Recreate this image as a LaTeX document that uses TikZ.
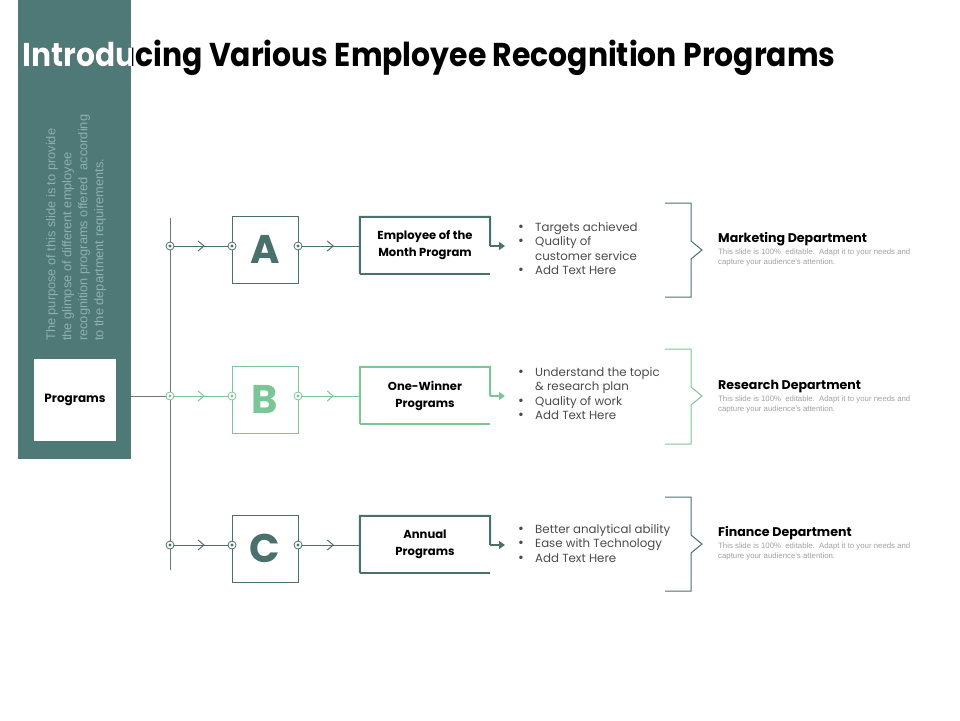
\documentclass[tikz,border=0pt]{standalone}
\usepackage{fontspec}
\setmainfont{Liberation Sans}
\newfontfamily\pop{Poppins}
\usetikzlibrary{arrows.meta}
\definecolor{panel}{HTML}{4E7977}
\definecolor{paneltext}{HTML}{8FB0AD}
\definecolor{tealc}{HTML}{4A706E}
\definecolor{greenc}{HTML}{7CC596}
\definecolor{trunkc}{HTML}{6B7878}
\definecolor{bullc}{HTML}{4A4A4A}
\definecolor{descc}{HTML}{A0A0A0}
\tikzset{
  dotm/.style={circle, draw=#1, fill=white, minimum size=8pt, inner sep=0pt, line width=0.8pt,
    path picture={\fill[#1] (path picture bounding box.center) circle (1.6pt);}},
  conn/.style={draw=#1, line width=1pt},
  letterbox/.style={draw=#1, line width=0.9pt, minimum width=66pt, minimum height=67pt, inner sep=0pt,
    text=#1, font=\pop\bfseries\fontsize{40}{40}\selectfont},
  progbox/.style={minimum width=130pt, minimum height=57pt, inner sep=0pt, align=center,
    font=\pop\bfseries\fontsize{11.6}{17}\selectfont},
  bulltext/.style={anchor=north west, align=left, inner sep=0pt, text=bullc,
    font=\pop\fontsize{11.8}{14.5}\selectfont},
  depttitle/.style={anchor=base west, inner sep=0pt, font=\pop\bfseries\fontsize{12.6}{14}\selectfont},
  depttext/.style={anchor=north west, align=left, inner sep=0pt, text=descc,
    font=\fontsize{7.8}{9.2}\selectfont},
  bracketline/.style={draw=#1, line width=1pt},
  titlestyle/.style={anchor=base west, inner sep=0pt, font=\pop\bfseries\fontsize{33}{36}\selectfont},
}
\newcommand{\bul}{\makebox[19pt][l]{\hspace*{2pt}{\fontsize{14}{14}\selectfont\textbullet}}}
\newcommand{\ind}{\hspace*{19pt}}
\newcommand{\titletext}{\scalebox{0.905}[1]{Introducing Various Employee Recognition Programs}}
\begin{document}
\begin{tikzpicture}[x=1pt,y=-1pt]
\useasboundingbox (0,0) rectangle (960,720);
% panel
\fill[panel] (18,0) rectangle (131,459);
\node[rotate=90, anchor=north west, align=left, inner sep=0pt, text=paneltext,
  font=\fontsize{12.8}{16}\selectfont] (ptext) at (46,341)
  {The purpose of this slide is to provide\\the glimpse of different employee\\recognition programs offered\ \ according\\to the department requirements.};
\node[fill=white, minimum width=82pt, minimum height=82pt, inner sep=0pt,
  font=\pop\bfseries\fontsize{12}{12}\selectfont] (prog) at (75,400) {Programs};
% title
\node[titlestyle] (title) at (22,66) {\titletext};
\begin{scope}
\clip (18,0) rectangle (131,459);
\node[titlestyle, text=white] (titlew) at (22,66) {\titletext};
\end{scope}
% trunk
\coordinate (ttop) at (170,218);
\coordinate (tbot) at (170,570);
\coordinate (panelE) at (131,396);
\coordinate (tmid) at (170,396);
\draw[conn=trunkc] (ttop) -- (tbot);
\draw[conn=trunkc] (panelE) -- (tmid);
% rows
\foreach \r/\yc/\col/\L in {a/246/tealc/A, b/396/greenc/B, c/545/tealc/C}{
  \node[letterbox=\col] (L\r) at (265,\yc+3.5) {\L};
  \coordinate (Lw\r) at (232,\yc);
  \coordinate (Le\r) at (298,\yc);
  \node[progbox] (P\r) at (425,\yc-0.5) {};
  \coordinate (Pw\r) at (360,\yc);
  \coordinate (Pe\r) at (490,\yc);
  \coordinate (Pt\r) at (505,\yc);
  \coordinate (T\r) at (170,\yc);
  \draw[conn=\col] (T\r) -- (Lw\r) coordinate[pos=0.5] (m1\r);
  \draw[conn=\col] (Le\r) -- (Pw\r) coordinate[pos=0.52] (m2\r);
  \foreach \m in {m1\r, m2\r}{
    \draw[\col, line width=1pt] ([xshift=-3pt, yshift=5pt]\m) -- ([xshift=3pt]\m) -- ([xshift=-3pt, yshift=-5pt]\m);
  }
  \node[dotm=\col] (dT\r) at (T\r) {};
  \node[dotm=\col] (dL\r) at (Lw\r) {};
  \node[dotm=\col] (dR\r) at (Le\r) {};
  \draw[draw=\col, line width=2pt] (P\r.south west) -- (P\r.north west) -- (P\r.north east) -- (Pe\r);
  \draw[draw=\col, line width=2pt] (P\r.south west) -- (P\r.south east);
  \draw[draw=\col, line width=2pt, -{Triangle[length=6pt, width=8pt]}] (Pe\r) -- (Pt\r);
}
\node[progbox] (Pat) at (Pa) {Employee of the\\Month Program};
\node[progbox] (Pbt) at (Pb) {One-Winner\\Programs};
\node[progbox] (Pct) at (Pc) {Annual\\Programs};
% bullets
\node[bulltext] (Ba) at (516,222) {\bul Targets achieved\\\bul Quality of\\\ind customer service\\\bul Add Text Here};
\node[bulltext] (Bb) at (516,367) {\bul Understand the topic\\\ind \& research plan\\\bul Quality of work\\\bul Add Text Here};
\node[bulltext] (Bc) at (516,524) {\bul Better analytical ability\\\bul Ease with Technology\\\bul Add Text Here};
% brackets
\foreach \r/\top/\bot/\n/\col in {a/203/297/250/tealc, b/349/444/396/greenc, c/497/591/544/tealc}{
  \coordinate (bt1\r) at (665,\top);
  \coordinate (bt2\r) at (691,\top);
  \coordinate (bn1\r) at (691,\n-9);
  \coordinate (bn2\r) at (702,\n);
  \coordinate (bn3\r) at (691,\n+9);
  \coordinate (bb2\r) at (691,\bot);
  \coordinate (bb1\r) at (665,\bot);
  \draw[bracketline=\col] (bt1\r) -- (bt2\r) -- (bn1\r) -- (bn2\r) -- (bn3\r) -- (bb2\r) -- (bb1\r);
}
% departments
\node[depttitle] (Da) at (718,242) {Marketing Department};
\node[depttext] (Ea) at (718,249) {This slide is 100\%\ \ editable.\ \ Adapt it to your needs and\\capture your audience's attention.};
\node[depttitle] (Db) at (718,389) {Research Department};
\node[depttext] (Eb) at (718,396) {This slide is 100\%\ \ editable.\ \ Adapt it to your needs and\\capture your audience's attention.};
\node[depttitle] (Dc) at (718,536) {Finance Department};
\node[depttext] (Ec) at (718,543) {This slide is 100\%\ \ editable.\ \ Adapt it to your needs and\\capture your audience's attention.};
\end{tikzpicture}
\end{document}
